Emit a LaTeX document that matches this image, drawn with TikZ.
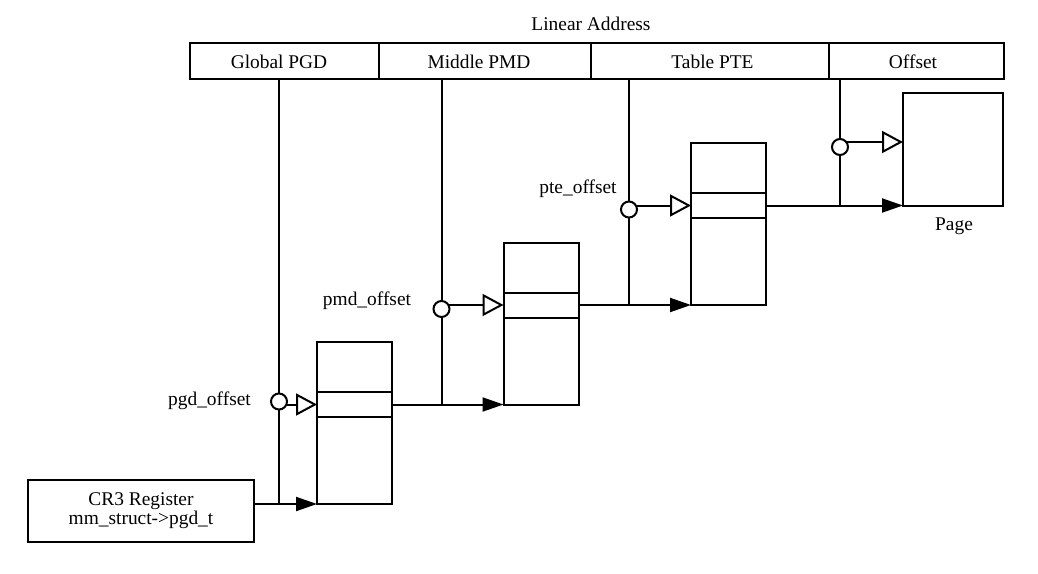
\documentclass[tikz,border=0pt]{standalone}
\usepackage{fontspec}
\setmainfont{Liberation Serif}
\usetikzlibrary{arrows.meta}
\pgfdeclarelayer{bg}
\pgfsetlayers{bg,main}
\begin{document}
\begin{tikzpicture}[x=1pt,y=-1pt,line width=2pt,
  every node/.style={font=\fontsize{19.4}{19}\selectfont,inner sep=0pt,outer sep=0pt},
  cell/.style={draw,rectangle,minimum height=36pt},
  tbl/.style={draw,rectangle,minimum width=75pt,minimum height=162pt},
  junc/.style={draw,circle,fill=white,minimum size=16pt},
  lbl/.style={anchor=base},
  conn/.style={line width=2pt},
  oarrow/.style={conn,-{Triangle[open,length=21pt,width=22pt]}},
  farrow/.style={conn,-{Triangle[length=21pt,width=14pt]}}]
\useasboundingbox (0,0) rectangle (1038,573);

% linear address bar
\node[lbl] (title) at (591,30) {Linear Address};
\node[cell,minimum width=189pt] (gpgd) at (284.5,61) {};
\node[cell,minimum width=212pt] (mpmd) at (485,61) {};
\node[cell,minimum width=238pt] (tpte) at (710,61) {};
\node[cell,minimum width=175pt] (offs) at (916.5,61) {};
\node[lbl] (tgpgd) at (279,68.5) {Global PGD};
\node[lbl] (tmpmd) at (479,68.5) {Middle PMD};
\node[lbl] (ttpte) at (712.5,68.5) {Table PTE};
\node[lbl] (toffs) at (913,68.5) {Offset};

% CR3
\node[draw,rectangle,minimum width=226pt,minimum height=62pt,align=center] (cr3) at (141,511)
  {CR3 Register\\mm\_struct->pgd\_t};

% tables
\node[tbl] (t1) at (354.5,423) {};
\node[tbl] (t2) at (541,323.5) {};
\node[tbl] (t3) at (728.5,224) {};
\node[draw,rectangle,minimum width=100pt,minimum height=112.5pt] (page) at (953,149.25) {};

\foreach \t in {t1,t2,t3}{
  \draw ([yshift=-50pt]\t.north west) -- ([yshift=-50pt]\t.north east);
  \draw ([yshift=-75pt]\t.north west) -- ([yshift=-75pt]\t.north east);
  \coordinate (\t w) at ([yshift=-62.5pt]\t.north west);
  \coordinate (\t e) at ([yshift=-62.5pt]\t.north east);
}
\coordinate (pagew) at ([yshift=-49pt]page.north west);

% labels
\node[lbl] (lpgd) at (209.5,405) {pgd\_offset};
\node[lbl] (lpmd) at (367,305.5) {pmd\_offset};
\node[lbl] (lpte) at (578,193) {pte\_offset};
\node[lbl] (lpage) at (954,230) {Page};

% junction circles
\node[junc] (c1) at (279,401.5) {};
\node[junc] (c2) at (441.5,309) {};
\node[junc] (c3) at (629,209.5) {};
\node[junc] (c4) at (840,147) {};

\begin{pgfonlayer}{bg}
  \draw[conn] (gpgd.south -| c1) -- (c1 |- t1.south);
  \draw[conn] (mpmd.south -| c2) -- (c2 |- t1w);
  \draw[conn] (tpte.south -| c3) -- (c3 |- t2w);
  \draw[conn] (offs.south -| c4) -- (c4 |- t3w);
  \draw[farrow] (cr3.east |- t1.south) -- (t1.south west);
  \draw[farrow] (t1e) -- (t2.south west);
  \draw[farrow] (t2e) -- (t3.south west);
  \draw[farrow] (t3e) -- (page.south west);
  \draw[oarrow] (c1 |- t1w) -- (t1w);
  \draw[oarrow] (c2 |- t2w) -- (t2w);
  \draw[oarrow] (c3 |- t3w) -- (t3w);
  \draw[oarrow] (c4 |- pagew) -- (pagew);
\end{pgfonlayer}
\end{tikzpicture}
\end{document}
